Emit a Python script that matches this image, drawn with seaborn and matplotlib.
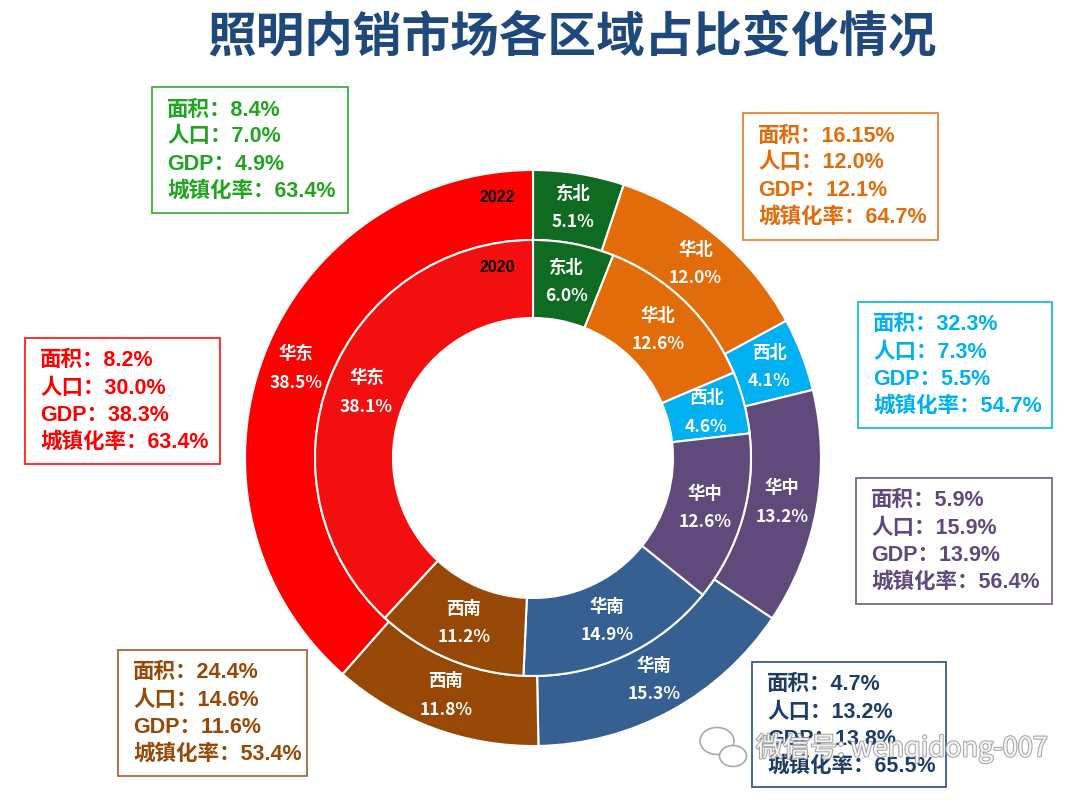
import matplotlib
matplotlib.use("Agg")
import matplotlib.pyplot as plt
import matplotlib.patheffects as pe
from matplotlib.patches import Rectangle, Ellipse
import numpy as np
import seaborn as sns

# ---------------- data ----------------
regions = ["东北", "华北", "西北", "华中", "华南", "西南", "华东"]
share_2022 = [5.1, 12.0, 4.1, 13.2, 15.3, 11.8, 38.5]
share_2020 = [6.0, 12.6, 4.6, 12.6, 14.9, 11.2, 38.1]

area = ["8.4%", "16.15%", "32.3%", "5.9%", "4.7%", "24.4%", "8.2%"]
population = ["7.0%", "12.0%", "7.3%", "15.9%", "13.2%", "14.6%", "30.0%"]
gdp = ["4.9%", "12.1%", "5.5%", "13.9%", "13.8%", "11.6%", "38.3%"]
urban = ["63.4%", "64.7%", "54.7%", "56.4%", "65.5%", "53.4%", "63.4%"]

title = "照明内销市场各区域占比变化情况"
year_labels = ["2022", "2020"]
watermark = "微信号: wenqidong-007"

# ---------------- style ----------------
sns.set_theme(style="white")
plt.rcParams["font.family"] = ["Noto Sans CJK SC", "DejaVu Sans"]
ARIAL_CJK = ["Liberation Sans", "Noto Sans CJK SC", "DejaVu Sans"]

outer_colors = ["#0f6b22", "#e36c0a", "#00b0f0", "#604a7b", "#366092", "#974806", "#ff0000"]
inner_colors = ["#0f6b22", "#e36c0a", "#00b0f0", "#604a7b", "#366092", "#974806", "#f30f0f"]
text_colors = ["#22a322", "#e36c0a", "#00b0f0", "#604a7b", "#1f3c64", "#974806", "#ff0000"]
border_colors = ["#3cb43c", "#e8823a", "#1ab8f0", "#7a6597", "#3c5a82", "#a8683a", "#ff2020"]

fig = plt.figure(figsize=(10.8, 8), dpi=100)

# pie axes: centre (533, 458) px, outer radius 288 px
cx, cy, R = 533, 458, 288
ax = fig.add_axes([(cx - R) / 1080, (800 - cy - R) / 800, 2 * R / 1080, 2 * R / 800])
ax.axis("off")

r_mid = 218 / 288
r_hole = 140 / 288

w_out, _ = ax.pie(share_2022, radius=1.0, colors=outer_colors, startangle=90,
                  counterclock=False,
                  wedgeprops=dict(width=1.0 - r_mid, edgecolor="white", linewidth=1.5))
w_in, _ = ax.pie(share_2020, radius=r_mid, colors=inner_colors, startangle=90,
                 counterclock=False,
                 wedgeprops=dict(width=r_mid - r_hole, edgecolor="white", linewidth=1.5))
ax.set_xlim(-1, 1)
ax.set_ylim(-1, 1)


def label_ring(wedges, values, rad):
    for w, name, v in zip(wedges, regions, values):
        ang = np.deg2rad((w.theta1 + w.theta2) / 2)
        x, y = rad * np.cos(ang), rad * np.sin(ang)
        ax.text(x, y, f"{name}\n{v:.1f}%", ha="center", va="center", color="white",
                fontsize=12.5, fontweight="bold", linespacing=1.75)


label_ring(w_out, share_2022, (1.0 + r_mid) / 2)
label_ring(w_in, share_2020, (r_mid + r_hole) / 2)

ax.text(-0.125, 0.905, year_labels[0], ha="center", va="center", fontsize=11.5,
        fontweight="bold", color="black", family=ARIAL_CJK)
ax.text(-0.125, 0.663, year_labels[1], ha="center", va="center", fontsize=11.5,
        fontweight="bold", color="black", family=ARIAL_CJK)

# overlay axes in pixel coordinates
ov = fig.add_axes([0, 0, 1, 1])
ov.set_xlim(0, 1080)
ov.set_ylim(800, 0)
ov.axis("off")
ov.patch.set_alpha(0)

ov.text(572, 37, title, ha="center", va="center", fontsize=35, fontweight="bold",
        color="#1f497d")

boxes = [(152, 87, 196, 126), (743, 113, 195, 127), (858, 302, 194, 126),
         (856, 478, 196, 126), (752, 662, 194, 125), (118, 650, 189, 126),
         (25, 338, 195, 126)]

for i, (bx, by, bw, bh) in enumerate(boxes):
    ov.add_patch(Rectangle((bx, by), bw, bh, fill=True, facecolor="white",
                           edgecolor=border_colors[i], linewidth=1.3, zorder=2))
    lines = [f"面积：{area[i]}", f"人口：{population[i]}",
             f"GDP：{gdp[i]}", f"城镇化率：{urban[i]}"]
    for j, t in enumerate(lines):
        ov.text(bx + 15, by + 23 + j * 27, t, ha="left", va="center", fontsize=15.5,
                fontweight="bold", color=text_colors[i], zorder=3, family=ARIAL_CJK)

# watermark (WeChat-style icon + id)
for (ex, ey, ew, eh) in [(717, 741, 34, 27), (733, 756, 27, 21)]:
    ov.add_patch(Ellipse((ex, ey), ew, eh, facecolor="white", edgecolor="#a0a0a0",
                         linewidth=1.2, alpha=0.9, zorder=5))
ov.text(756, 748, watermark, ha="left", va="center", fontsize=19.5, color="white",
        alpha=0.9, zorder=5, family=["Noto Sans CJK SC", "DejaVu Sans"],
        path_effects=[pe.withStroke(linewidth=1.5, foreground="#9a9a9a")])

fig.savefig("out.png", dpi=100)
